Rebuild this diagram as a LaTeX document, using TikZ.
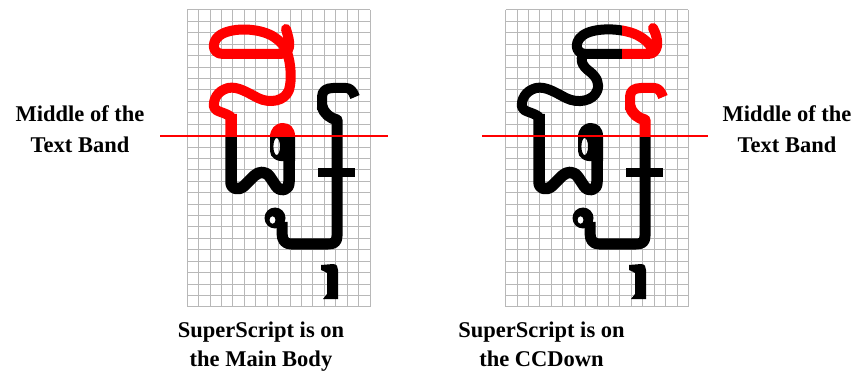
\documentclass[tikz,border=0pt]{standalone}
\usepackage{fontspec}
\setmainfont{Liberation Serif}
\definecolor{bandred}{RGB}{255,0,0}
\tikzset{
  gridline/.style={draw=black!28, line width=1pt},
  stroke/.style={line width=10pt, line cap=round, line join=round},
  stemstroke/.style={line width=11.5pt, line cap=butt, line join=round},
  bandline/.style={draw=bandred, color=bandred, line width=1.3pt},
  lbl/.style={font=\bfseries\fontsize{22.5}{26}\selectfont, inner sep=0pt, anchor=base},
}
% upper loop + S of the left glyph
\newcommand\KTopLeft{%
  \draw[stroke] (286,29) .. controls (288,36) and (290,42) .. (289,47)
    .. controls (288,52) and (285,54) .. (280,54) -- (223,54)
    .. controls (211,54) and (210,39) .. (224,33) .. controls (238,27) and (262,29) .. (274,37)
    .. controls (281,42) and (285,46) .. (287,52) .. controls (291,64) and (292,80) .. (289,90)
    .. controls (285,101) and (270,104) .. (258,98) .. controls (248,93) and (238,86) .. (228,88)
    .. controls (217,91) and (213,100) .. (214,107) .. controls (215,112) and (225,112) .. (231,117);
}
% upper loop + S of the right glyph
\newcommand\KTopRight{%
  \draw[stroke] (653,28) .. controls (656,34) and (658,40) .. (657,46)
    .. controls (656,51) and (653,54) .. (648,54) -- (586,54)
    .. controls (574,54) and (573,39) .. (587,33) .. controls (601,27) and (625,29) .. (637,35)
    .. controls (645,39) and (650,44) .. (653,50);
  \draw[stroke] (584,54) .. controls (579,58) and (582,66) .. (589,71)
    .. controls (597,77) and (600,84) .. (597,91) .. controls (593,101) and (578,104) .. (566,98)
    .. controls (556,93) and (546,86) .. (536,88) .. controls (525,91) and (521,100) .. (522,107)
    .. controls (523,112) and (533,112) .. (539,117);
}
% stems, bottom W and the head of the main body (left glyph position)
\newcommand\KStem{%
  \draw[stemstroke] (231,114) -- (231,182) .. controls (231,189) and (238,191) .. (244,186)
    -- (254,176) .. controls (259,171) and (266,171) .. (270,177) -- (276,186)
    .. controls (280,192) and (289,191) .. (289,182) -- (289,135);
  \fill[even odd rule] (295,136) .. controls (295,128) and (290,123) .. (283,123)
    .. controls (275,123) and (270,129) .. (270,137) -- (270,151)
    .. controls (270,158) and (277,162) .. (285,161) -- (295,161) -- cycle
    (276.7,146.5) ellipse [x radius=3.3, y radius=8.5];
}
% tall hooked stem, bottom U with its ring, and the small foot sign
\newcommand\KTail{%
  \draw[stroke, line cap=butt] (322,110) -- (322,97) .. controls (322,91) and (326,88) .. (333,88)
    -- (346,88) .. controls (350,88) and (353,91) .. (355,97);
  \draw[stroke, line width=11pt, line cap=butt] (322,106) .. controls (324,114) and (330,118) .. (337,120)
    -- (337,236) .. controls (337,242) and (334,244) .. (328,244) -- (291,244)
    .. controls (285,244) and (282,240) .. (282,233) -- (282,222);
  \fill[even odd rule] (275,218) circle [radius=10.5] (272.5,220) ellipse [x radius=3, y radius=3.8];
  \draw[line width=9pt] (318,173) -- (355,173);
  \fill (321,265) -- (333,264) .. controls (337,264) and (338,267) .. (338,270) -- (338,299)
    -- (323,299) -- (327,294) -- (327,273) .. controls (325,271) and (322,271) .. (321,270) -- cycle;
}
\begin{document}
\begin{tikzpicture}[x=1pt, y=-1pt]
  \fill[white] (0,0) rectangle (862,374);
  \useasboundingbox (0,0) rectangle (862,374);

  % grids
  \foreach \i in {0,...,16} {
    \draw[gridline] ({187.3+\i*11.42},10) -- ({187.3+\i*11.42},306.9);
    \draw[gridline] ({505.7+\i*11.42},10) -- ({505.7+\i*11.42},306.9);
  }
  \foreach \j in {0,...,26} {
    \draw[gridline] (187.3,{10+\j*11.42}) -- (370,{10+\j*11.42});
    \draw[gridline] (505.7,{10+\j*11.42}) -- (688.4,{10+\j*11.42});
  }

  % ---- left glyph: superscript on the main body
  \begin{scope}[bandred]
    \clip (150,0) rectangle (400,136);
    \KTopLeft
    \KStem
  \end{scope}
  \begin{scope}[black]
    \clip (150,136) rectangle (400,320);
    \KStem
  \end{scope}
  \begin{scope}[black]
    \KTail
  \end{scope}

  % ---- right glyph: superscript on the CCDown
  \begin{scope}[black]
    \clip (480,0) rectangle (622,136);
    \KTopRight
  \end{scope}
  \begin{scope}[bandred]
    \clip (622,0) rectangle (700,136);
    \KTopRight
  \end{scope}
  \begin{scope}[black, xshift=308pt]
    \KStem
  \end{scope}
  \begin{scope}[bandred, xshift=308pt]
    \clip (250,0) rectangle (400,136);
    \KTail
  \end{scope}
  \begin{scope}[black, xshift=308pt]
    \clip (250,136) rectangle (400,320);
    \KTail
  \end{scope}

  % middle of the text band
  \coordinate (mlA) at (160,136);
  \coordinate (mlB) at (388,136);
  \coordinate (mrA) at (482,136);
  \coordinate (mrB) at (708,136);
  \draw[bandline] (mlA) -- (mlB);
  \draw[bandline] (mrA) -- (mrB);

  % labels
  \node[lbl] (tl1) at (80,122) {Middle of the};
  \node[lbl] (tl2) at (80,153) {Text Band};
  \node[lbl] (tr1) at (787,122) {Middle of the};
  \node[lbl] (tr2) at (787,153) {Text Band};
  \node[lbl] (bl1) at (261,337) {SuperScript is on};
  \node[lbl] (bl2) at (261,366) {the Main Body};
  \node[lbl] (br1) at (541.5,337) {SuperScript is on};
  \node[lbl] (br2) at (541.5,366) {the CCDown};
\end{tikzpicture}
\end{document}
